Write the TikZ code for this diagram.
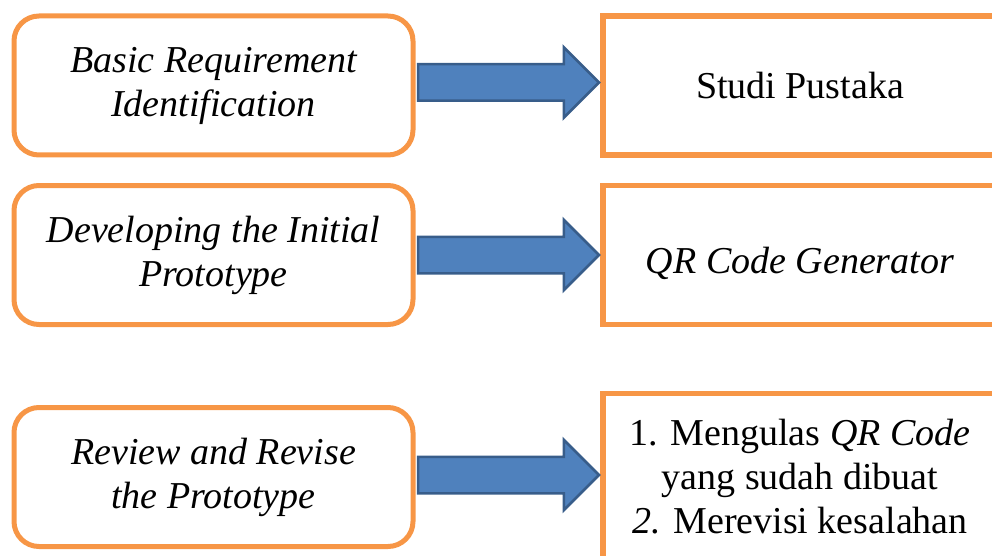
\documentclass[tikz,border=0pt]{standalone}
\usepackage{fontspec}
\setmainfont{Liberation Serif}
\usetikzlibrary{positioning,shapes.arrows}
\definecolor{boxorange}{HTML}{F79646}
\definecolor{arrowblue}{HTML}{4F81BD}
\definecolor{arrowdark}{HTML}{385D8A}
\tikzset{
  stage/.style={draw=boxorange, line width=5pt, rounded corners=25pt, outer sep=0pt,
    minimum width=399pt, minimum height=139pt, align=center,
    font=\fontsize{38}{44}\selectfont\itshape},
  result/.style={draw=boxorange, line width=5.5pt, outer sep=0pt,
    minimum width=394pt, minimum height=139pt, align=center,
    font=\fontsize{38}{44}\selectfont},
  blockarrow/.style={single arrow, fill=arrowblue, draw=arrowdark, line width=2.5pt,
    minimum height=181pt, single arrow head extend=17pt,
    inner xsep=0pt, inner ysep=17pt, outer sep=0pt, anchor=tip}
}
\begin{document}
\begin{tikzpicture}[x=1pt, y=-1pt, node distance=190pt]
      \useasboundingbox (0,0) rectangle (992,556);
      \clip (0,0) rectangle (992,556);

      % left column
      \node [stage, yshift=0pt] (basic) at (213.5,85.5) {Basic Requirement\\Identification};
      \node [stage] (develop) at (213.5,255) {Developing the Initial\\Prototype};
      \node [stage] (review) at (213.5,477) {Review and Revise\\the Prototype};

      % right column
      \node [result, right=of basic] (studi) {Studi Pustaka};
      \node [result, right=of develop, text height=45pt, text depth=9pt] (qrgen) {\textit{QR Code Generator}};
      \node [result, right=of review, minimum height=167pt] (revisi) {1. Mengulas \textit{QR Code}\\yang sudah dibuat\\\textit{2.} Merevisi kesalahan};

      % arrows
      \node [blockarrow, xshift=-4pt, yshift=3pt] (toStudi) at (studi.west) {};
      \node [blockarrow, xshift=-4pt] (toQrgen) at (qrgen.west) {};
      \node [blockarrow, xshift=-4pt, yshift=2pt] (toRevisi) at (revisi.west) {};
\end{tikzpicture}
\end{document}
